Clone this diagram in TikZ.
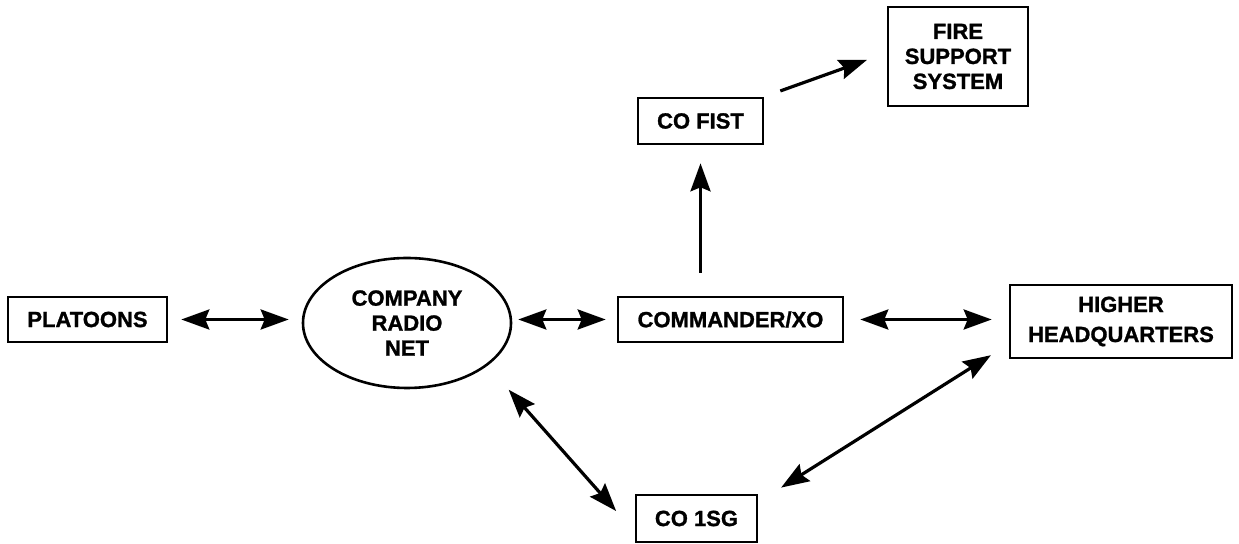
\documentclass[tikz,border=0pt]{standalone}
\usepackage{fontspec}
\setmainfont{Liberation Sans}[BoldFeatures={FakeBold=1.2}]
\usetikzlibrary{shapes.geometric,arrows.meta}

\begin{document}
\begin{tikzpicture}[x=0.5pt,y=-0.5pt,
		box/.style={draw,line width=1.3pt,inner sep=0pt,align=center,font=\bfseries\fontsize{11}{12.5}\selectfont},
		dblarrow/.style={line width=1.6pt,{Stealth[length=14pt,width=10pt,inset=2pt]}-{Stealth[length=14pt,width=10pt,inset=2pt]}},
		sglarrow/.style={line width=1.6pt,-{Stealth[length=14pt,width=10pt,inset=2pt]}}]
		\useasboundingbox (0,0) rectangle (1239,544);
		\node[box,minimum width=79.5pt,minimum height=22.5pt] (platoons) at (87.5,319.5) {PLATOONS};
		\node[box,ellipse,minimum width=104pt,minimum height=65pt] (net) at (407,323) {COMPANY\\RADIO\\NET};
		\node[box,minimum width=112.5pt,minimum height=22.5pt] (cmd) at (730.5,319.5) {COMMANDER/XO};
		\node[box,minimum width=111pt,minimum height=36.5pt,font=\bfseries\fontsize{11}{15}\selectfont] (hhq) at (1121,321.5) {HIGHER\\HEADQUARTERS};
		\node[box,minimum width=62.5pt,minimum height=23pt] (fist) at (700.5,121) {CO FIST};
		\node[box,minimum width=70pt,minimum height=49.5pt] (fss) at (958,56.5) {FIRE\\SUPPORT\\SYSTEM};
		\node[box,minimum width=60.5pt,minimum height=23.5pt] (sg) at (696.5,518.5) {CO 1SG};
		% links
		\draw[dblarrow,shorten <=6.5pt,shorten >=6.5pt] (platoons.east) -- (platoons.east -| net.west);
		\draw[dblarrow,shorten <=3pt,shorten >=5.5pt] (cmd.west -| net.east) -- (cmd.west);
		\draw[dblarrow,shorten <=8pt,shorten >=8.5pt] (cmd.east) -- (cmd.east -| hhq.west);
		\draw[dblarrow,shorten <=16pt,shorten >=14pt] (net.-28) -- ([yshift=-6.75pt]sg.west);
		\draw[dblarrow,shorten <=10.5pt,shorten >=13.5pt] ([yshift=-11.25pt]hhq.west) -- ([yshift=8.25pt]sg.east);
		\draw[sglarrow,shorten <=11.5pt,shorten >=9pt] (fist.south |- cmd.north) -- (fist.south);
		\draw[sglarrow,shorten <=8.5pt,shorten >=10.5pt] (fist.north east) -- ([yshift=1.8pt]fss.west);
	\end{tikzpicture}
\end{document}
